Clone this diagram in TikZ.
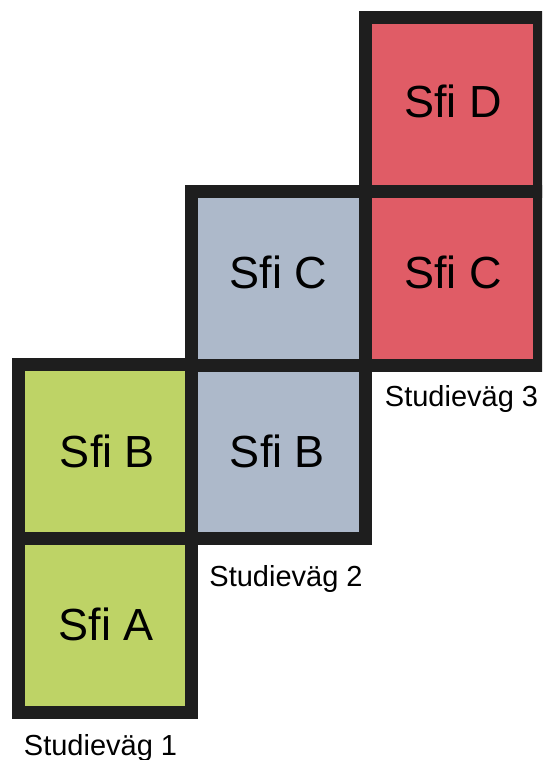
\documentclass[tikz,border=0pt]{standalone}
\usepackage{fontspec}
\setmainfont{Liberation Sans}
\definecolor{cgreen}{RGB}{190,211,102}
\definecolor{cblue}{RGB}{173,185,202}
\definecolor{cred}{RGB}{224,92,102}
\definecolor{cedge}{RGB}{30,30,30}
\tikzset{
  cell/.style={draw=cedge, line width=13pt, minimum width=173.6pt, minimum height=173.6pt,
    inner sep=0pt},
  celltext/.style={inner sep=0pt, font=\fontsize{45}{54}\selectfont, text=black},
  pathlabel/.style={anchor=base, inner sep=0pt, font=\fontsize{29}{35}\selectfont, text=black}
}
\begin{document}
\begin{tikzpicture}[x=1pt,y=-1pt]
\useasboundingbox (0,0) rectangle (542,760);
\clip (0,0) rectangle (542,760);
\node[cell, fill=cgreen] (a1) at (105.1,625.25) {};
\node[cell, fill=cgreen] (b1) at (105.1,451.75) {};
\node[cell, fill=cblue] (b2) at (278.7,451.75) {};
\node[cell, fill=cblue] (c2) at (278.7,278.25) {};
\node[cell, fill=cred] (c3) at (452.3,278.25) {};
\node[cell, fill=cred] (d3) at (452.3,104.75) {};
\node[celltext] (ta1) at (106,624) {Sfi A};
\node[celltext] (tb1) at (107.5,451.7) {Sfi B};
\node[celltext] (tb2) at (277.5,451.5) {Sfi B};
\node[celltext] (tc2) at (278.5,272.5) {Sfi C};
\node[celltext] (tc3) at (452.8,272.5) {Sfi C};
\node[celltext] (td3) at (452.8,101.5) {Sfi D};
\node[pathlabel] (l1) at (100.5,755) {Studieväg 1};
\node[pathlabel] (l2) at (286,586.7) {Studieväg 2};
\node[pathlabel] (l3) at (461.5,406.7) {Studieväg 3};
\end{tikzpicture}
\end{document}
